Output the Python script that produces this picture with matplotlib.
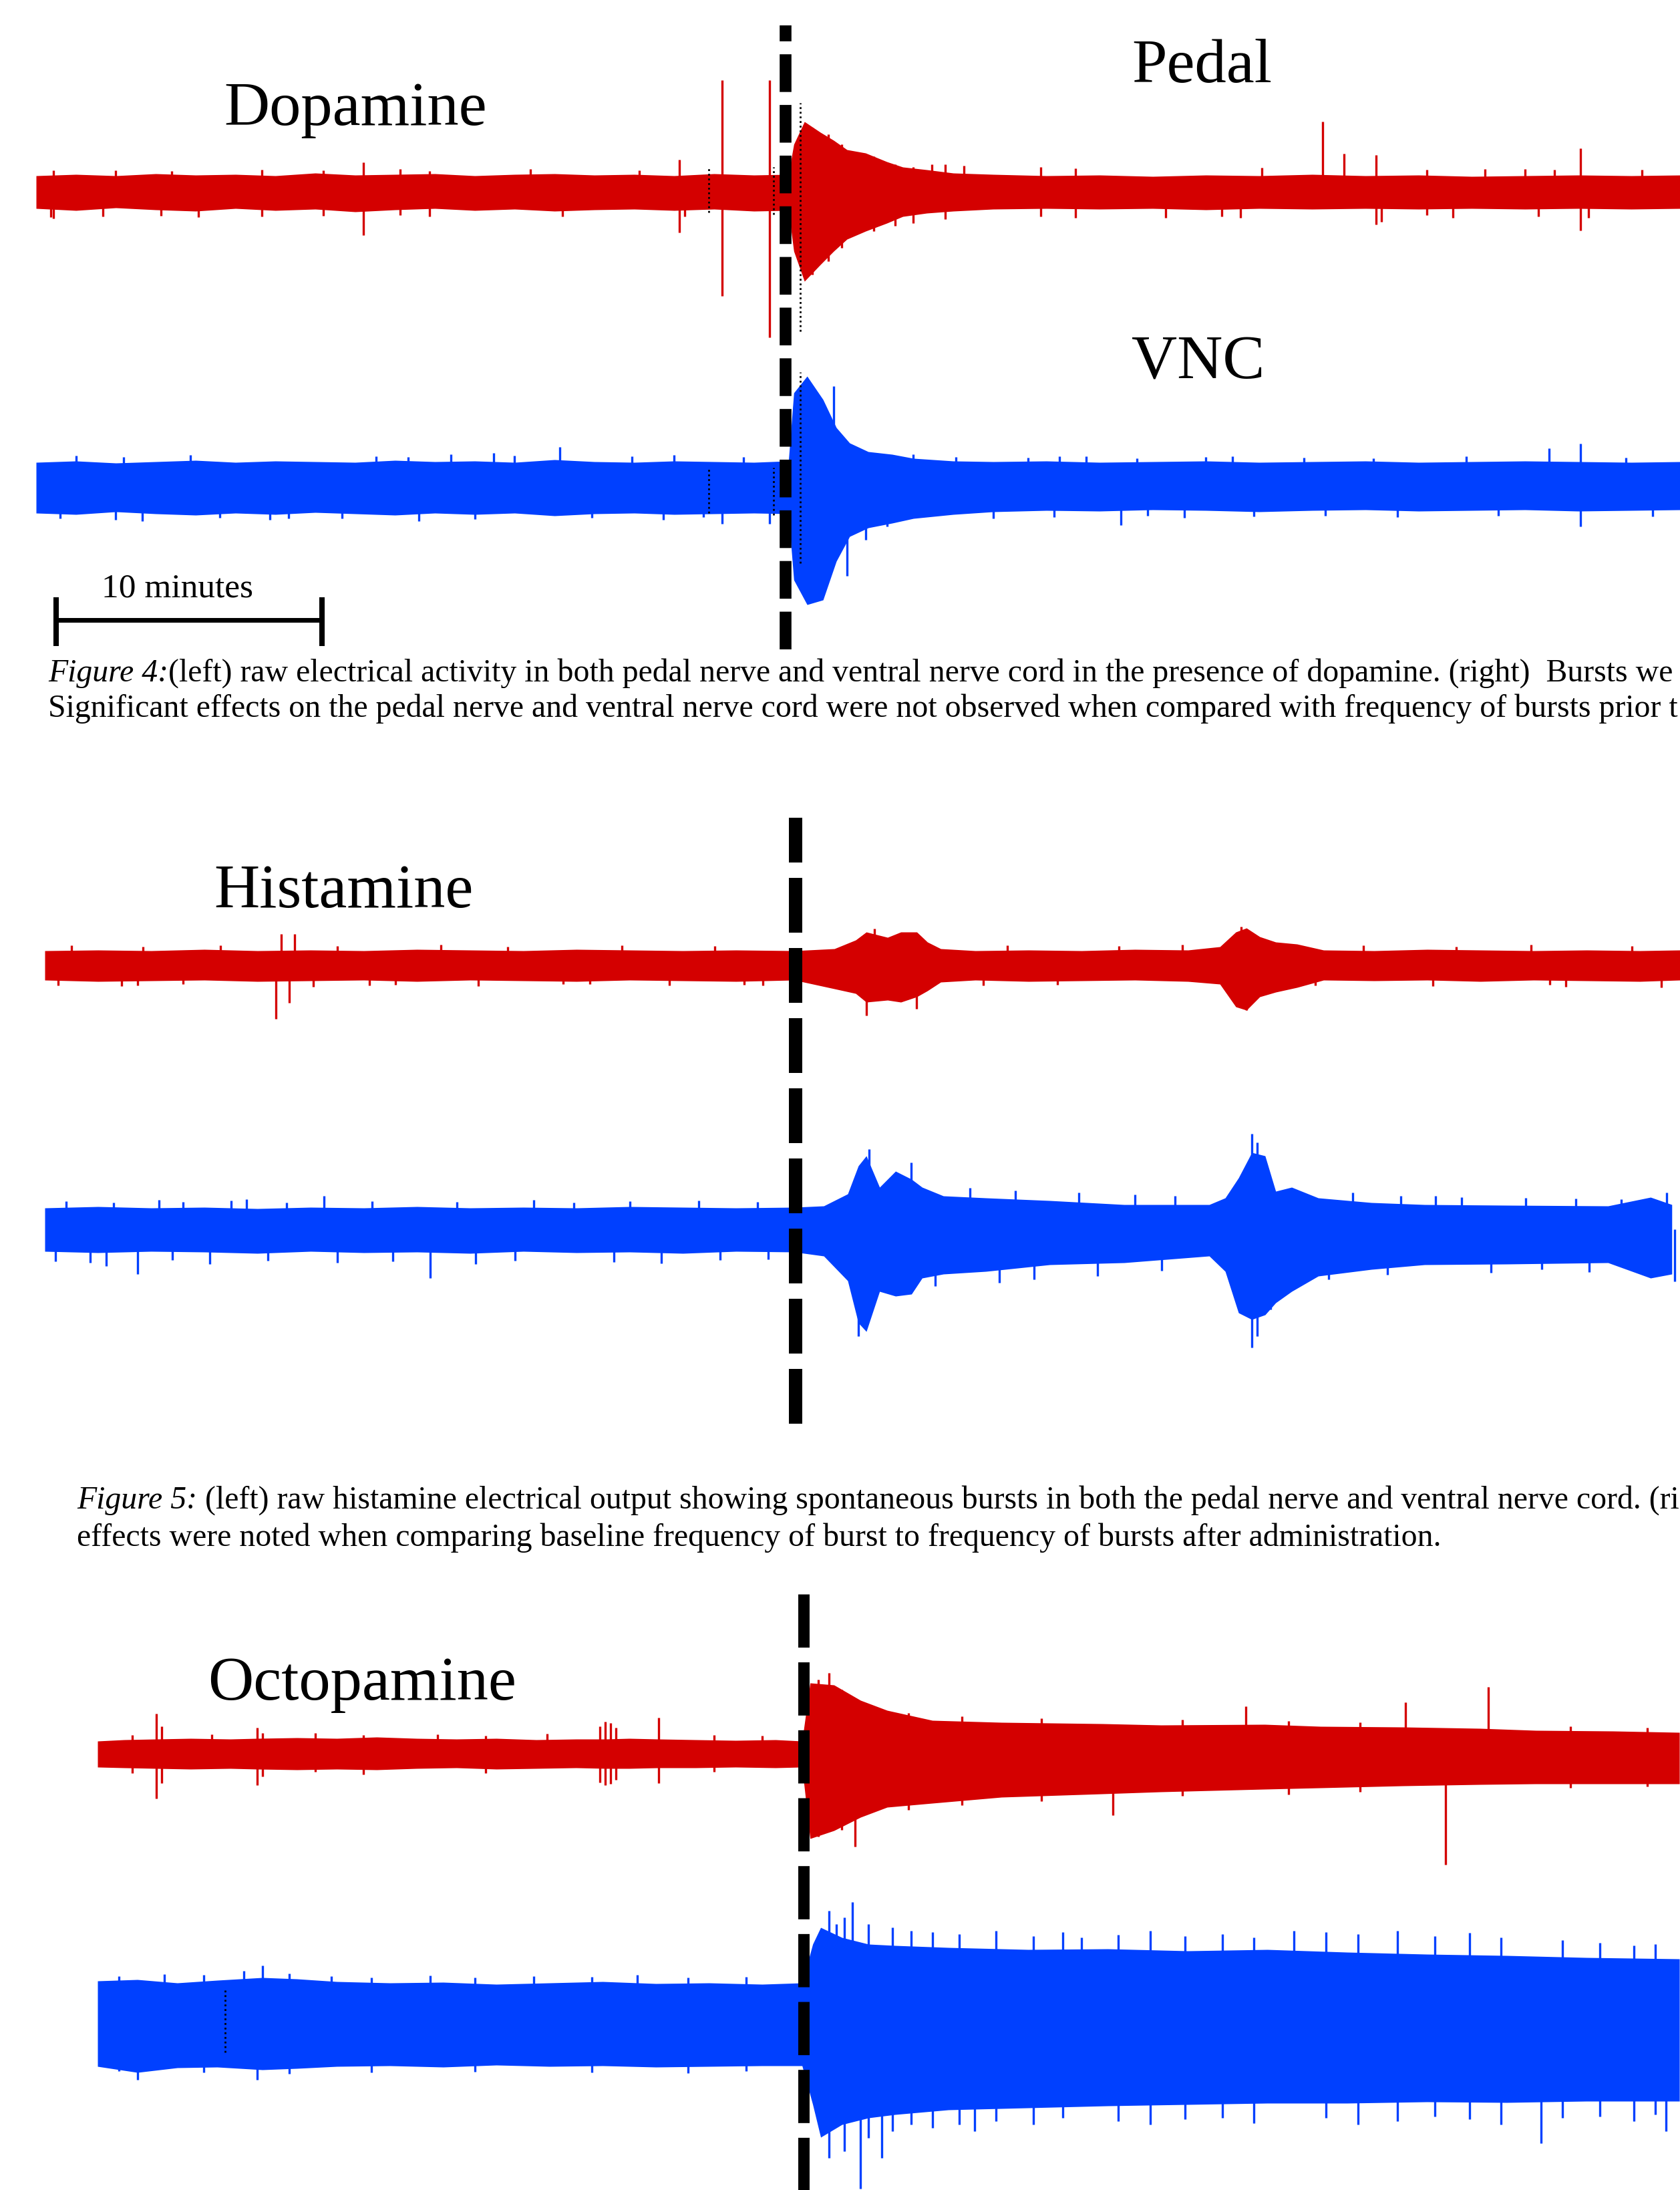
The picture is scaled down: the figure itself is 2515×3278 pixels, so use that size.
import matplotlib
matplotlib.use('Agg')
import matplotlib.pyplot as plt
import numpy as np

plt.rcParams['font.family'] = ['Liberation Serif', 'DejaVu Serif']

W, H = 2515, 3278
PX_PER_MIN = 39.8   # 10 minutes scale bar ~ 398 px
RED = '#d40000'
BLUE = '#0040ff'

# ---------------- Figure 4: dopamine ----------------
# trace envelopes: time (min), amplitude above / below baseline (a.u.)
dop_drug_t = 28.2

dop_red_t = [0, 1.5, 3, 4.5, 6, 7.5, 9, 10.5, 12, 13.5, 15, 16.5, 18, 19.5, 21, 22.5, 24, 25.5, 27, 28.3,
             28.5, 28.9, 29.5, 30.0, 30.5, 31.2, 32.0, 32.6, 33.5, 34.5, 36, 38, 40, 42, 44, 46, 48, 50,
             52, 54, 56, 58, 60, 61.9]
dop_red_top = [23, 25, 23, 26, 24, 25, 23, 27, 24, 25, 26, 23, 25, 26, 24, 25, 23, 26, 24, 25,
               70, 104, 88, 76, 62, 57, 44, 36, 32, 27, 25, 23, 24, 22, 24, 23, 25, 23,
               24, 22, 23, 24, 23, 24]
dop_red_bot = [26, 29, 25, 28, 30, 26, 29, 27, 31, 28, 26, 29, 27, 30, 28, 27, 29, 27, 30, 29,
               90, 135, 110, 90, 72, 60, 48, 38, 33, 30, 27, 26, 27, 26, 28, 26, 27, 26,
               27, 26, 27, 26, 27, 26]
# spikes: (time, height above, depth below)
dop_red_spikes = [(12.3, 43, 66), (24.2, 47, 62), (25.8, 166, 157), (27.6, 166, 219),
                  (48.4, 104, 0), (49.2, 56, 0), (50.4, 54, 50), (58.1, 64, 59),
                  (0.65, 31, 41), (3.0, 31, 0), (5.1, 30, 0), (8.5, 32, 38), (10.8, 31, 37),
                  (13.7, 33, 36), (14.8, 30, 38), (18.6, 33, 0), (22.7, 31, 0),
                  (0.55, 0, 39), (2.5, 0, 38), (4.7, 0, 37), (6.1, 0, 39), (19.8, 0, 38), (24.4, 0, 38),
                  (29.2, 95, 125), (29.8, 85, 105), (30.3, 70, 85), (31.5, 52, 60), (32.3, 40, 52),
                  (33.0, 36, 48), (33.7, 40, 0), (34.2, 40, 42), (34.9, 38, 0), (37.8, 36, 38),
                  (39.1, 34, 40), (46.1, 35, 0), (52.3, 32, 36), (54.5, 33, 0), (57.1, 32, 0),
                  (60.4, 32, 0), (45.3, 0, 40), (50.6, 0, 46), (56.5, 0, 38), (58.4, 0, 40),
                  (42.5, 0, 40), (44.6, 0, 38), (53.3, 0, 40), (56.0, 33, 0)]

dop_blue_t = [0, 1.5, 3, 4.5, 6, 7.5, 9, 10.5, 12, 13.5, 15, 16.5, 18, 19.5, 21, 22.5, 24, 25.5, 27, 28.3,
              28.5, 29.0, 29.6, 30.1, 30.6, 31.3, 32.2, 33.0, 34.5, 36, 38, 40, 42, 44, 46, 48, 50,
              52, 54, 56, 58, 60, 61.9]
dop_blue_top = [36, 38, 35, 37, 39, 36, 38, 37, 36, 39, 37, 38, 36, 40, 37, 36, 38, 37, 36, 38,
                140, 165, 130, 88, 65, 52, 48, 42, 38, 37, 38, 36, 37, 38, 36, 37, 38,
                36, 37, 38, 37, 36, 37]
dop_blue_bot = [40, 42, 38, 41, 43, 40, 42, 39, 41, 43, 40, 42, 40, 44, 41, 40, 42, 41, 40, 41,
                140, 177, 170, 112, 75, 62, 55, 48, 42, 38, 36, 37, 35, 36, 38, 36, 35,
                37, 36, 35, 37, 36, 35]
dop_blue_spikes = [(19.7, 59, 0), (4.0, 0, 52), (25.8, 0, 56), (27.6, 0, 56), (30.5, 0, 134),
                   (31.2, 0, 80), (40.8, 0, 58), (56.9, 57, 0), (58.1, 64, 60), (38.5, 45, 0),
                   (9.5, 0, 48), (14.0, 44, 0), (30.0, 150, 0), (45.0, 45, 0),
                   (1.5, 46, 0), (3.3, 44, 0), (5.8, 47, 0), (12.8, 45, 0), (15.6, 48, 0), (17.2, 50, 0),
                   (18.0, 46, 0), (22.4, 45, 0), (24.0, 47, 0), (26.6, 44, 0),
                   (0.9, 0, 48), (3.0, 0, 50), (6.9, 0, 47), (8.8, 0, 50), (11.5, 0, 48), (14.4, 0, 52),
                   (16.5, 0, 49), (20.9, 0, 47), (23.6, 0, 50), (25.1, 0, 46),
                   (33.0, 48, 0), (34.6, 44, 0), (37.3, 43, 0), (39.5, 45, 0), (41.4, 42, 0),
                   (44.0, 44, 0), (47.7, 43, 0), (50.3, 42, 0), (53.8, 45, 0), (59.8, 43, 0),
                   (32.0, 0, 60), (36.0, 0, 48), (38.3, 0, 46), (41.8, 0, 44), (43.2, 0, 47),
                   (45.8, 0, 45), (48.5, 0, 44), (51.2, 0, 46), (55.0, 0, 44), (60.8, 0, 45)]
# dotted marker columns near the application time: (time, above, below)
dop_red_marks = [(25.3, 36, 32), (27.75, 36, 35), (28.74, 132, 210)]
dop_blue_marks = [(25.3, 28, 40), (27.75, 28, 43), (28.74, 171, 115)]

# ---------------- Figure 5: histamine ----------------
his_drug_t = 28.24
his_red_t = [0, 2, 4, 6, 8, 10, 12, 14, 16, 18, 20, 22, 24, 26, 28.2, 29.7, 30.5, 30.9, 31.7, 32.2,
             32.8, 33.2, 33.7, 35, 37, 39, 41, 43, 44.2, 44.8, 45.2, 45.7, 46.3, 47.1, 48.1, 50, 52,
             54, 56, 58, 60, 61.5]
his_red_top = [22, 23, 22, 24, 22, 23, 22, 24, 23, 22, 24, 23, 22, 23, 22, 25, 38, 50, 42, 50,
               50, 35, 25, 22, 23, 22, 24, 23, 28, 50, 56, 43, 35, 32, 23, 22, 24,
               23, 22, 23, 22, 23]
his_red_bot = [22, 24, 23, 22, 24, 23, 22, 24, 22, 23, 24, 22, 23, 24, 22, 35, 42, 55, 52, 55,
               47, 38, 25, 22, 24, 23, 22, 24, 28, 62, 67, 47, 40, 33, 22, 23, 22,
               24, 22, 23, 24, 22]
his_red_spikes = [(8.9, 47, 0), (9.4, 47, 0), (8.7, 0, 80), (9.2, 0, 56), (3.5, 0, 30), (12.2, 0, 30),
                  (20.5, 0, 28), (27.0, 0, 30), (30.9, 0, 75), (31.2, 55, 0), (32.8, 0, 65),
                  (45.2, 0, 67), (45.0, 58, 0), (57.2, 0, 32),
                  (1.0, 30, 0), (3.7, 28, 0), (6.6, 30, 0), (11.0, 29, 0), (14.9, 31, 0), (17.4, 28, 0),
                  (21.7, 30, 0), (25.2, 29, 0), (36.2, 30, 0), (40.4, 29, 0), (42.8, 31, 0),
                  (49.6, 30, 0), (53.1, 28, 0), (55.9, 31, 0), (59.7, 29, 0),
                  (0.5, 0, 30), (2.9, 0, 31), (5.2, 0, 28), (10.1, 0, 32), (13.2, 0, 29), (16.3, 0, 31),
                  (19.5, 0, 28), (23.5, 0, 30), (26.3, 0, 29), (35.3, 0, 30), (38.1, 0, 29),
                  (47.8, 0, 30), (52.2, 0, 31), (56.6, 0, 29), (60.8, 0, 33)]

his_blue_t = [0, 2, 4, 6, 8, 10, 12, 14, 16, 18, 20, 22, 24, 26, 28.2, 29.3, 30.2, 30.6, 30.9, 31.4,
              32.0, 32.6, 33.0, 33.8, 35.4, 37.8, 40.6, 43.8, 44.4, 44.9, 45.4, 45.9, 46.3, 46.9, 47.9,
              49.9, 51.9, 55, 58.8, 60.4, 61.2]
his_blue_top = [32, 34, 32, 33, 31, 33, 32, 34, 32, 33, 32, 34, 33, 32, 33, 35, 53, 95, 110, 63,
                87, 75, 63, 50, 47, 43, 37, 37, 47, 77, 115, 110, 57, 63, 47,
                40, 37, 36, 35, 48, 37]
his_blue_bot = [33, 35, 33, 34, 36, 33, 35, 34, 36, 33, 35, 34, 36, 33, 34, 40, 77, 140, 153, 93,
                100, 97, 73, 67, 63, 53, 50, 40, 63, 125, 135, 128, 110, 93, 70,
                60, 53, 52, 50, 73, 67]
his_blue_spikes = [(10.5, 50, 0), (14.5, 0, 73), (3.5, 0, 67), (2.3, 0, 55), (7.6, 45, 0),
                   (30.6, 0, 160), (31.0, 120, 0), (32.6, 100, 0), (45.4, 143, 177), (45.6, 130, 160),
                   (46.1, 0, 120), (52.3, 50, 0), (61.3, 0, 78), (61.0, 55, 0), (33.5, 0, 85),
                   (27.2, 0, 45),
                   (0.8, 42, 0), (2.6, 40, 0), (4.3, 44, 0), (5.2, 41, 0), (7.0, 43, 0), (9.1, 40, 0),
                   (12.3, 42, 0), (15.5, 41, 0), (18.4, 44, 0), (19.9, 40, 0), (22.0, 42, 0),
                   (24.6, 43, 0), (26.8, 41, 0), (34.8, 62, 0), (36.5, 58, 0), (38.9, 55, 0),
                   (41.0, 52, 0), (42.5, 50, 0), (49.2, 55, 0), (51.0, 50, 0), (53.3, 48, 0),
                   (55.7, 47, 0), (57.6, 46, 0), (59.3, 45, 0),
                   (0.4, 0, 48), (1.7, 0, 50), (4.8, 0, 46), (6.2, 0, 52), (8.4, 0, 47), (11.0, 0, 50),
                   (13.1, 0, 48), (16.2, 0, 52), (17.7, 0, 47), (21.4, 0, 49), (23.2, 0, 51),
                   (25.4, 0, 46), (35.9, 0, 80), (37.2, 0, 75), (39.6, 0, 70), (42.0, 0, 62),
                   (48.3, 0, 75), (50.5, 0, 68), (54.4, 0, 65), (56.3, 0, 60), (58.1, 0, 64)]

# ---------------- octopamine ----------------
oct_drug_t = 26.56
oct_red_t = [0, 1, 2.2, 3.5, 5, 6, 7.5, 9, 10.5, 12, 13.5, 15, 16.5, 18, 19.1, 20, 21.1, 22.5, 24,
             25.5, 26.5, 26.8, 27.7, 28.7, 29.7, 31.4, 34.0, 37.8, 40, 43.9, 46, 49.1, 52, 54.1, 57, 59.5]
oct_red_top = [18, 20, 21, 22, 21, 22, 23, 22, 24, 22, 21, 22, 20, 21, 21, 22, 21, 20, 19,
               20, 18, 105, 102, 79, 64, 49, 46, 44, 42, 43, 40, 39, 37, 34, 33, 31]
oct_red_bot = [21, 22, 23, 24, 23, 24, 25, 24, 25, 23, 22, 24, 23, 22, 23, 23, 22, 22, 21,
               22, 21, 128, 116, 96, 81, 75, 66, 61, 58, 54, 52, 49, 47, 46, 46, 46]
oct_red_spikes = [(2.2, 59, 68), (2.4, 40, 45), (6.0, 38, 48), (6.2, 30, 35), (21.1, 53, 45),
                  (18.9, 40, 44), (19.1, 47, 48), (19.3, 45, 46), (19.5, 38, 40),
                  (43.2, 70, 0), (49.2, 76, 0), (50.7, 0, 167), (52.3, 99, 0), (38.2, 0, 93),
                  (27.5, 120, 0), (28.5, 0, 140), (27.1, 110, 125), (28.0, 95, 115),
                  (1.3, 27, 30), (4.3, 28, 0), (8.2, 30, 28), (10.0, 27, 32), (12.8, 28, 0),
                  (14.6, 26, 30), (16.9, 29, 0), (23.2, 27, 28), (25.0, 26, 0),
                  (30.5, 60, 85), (32.5, 55, 78), (35.5, 52, 72), (40.8, 50, 64), (44.8, 48, 62),
                  (47.5, 46, 58), (55.4, 40, 52), (58.3, 38, 50)]

oct_blue_t = [0, 1.5, 3, 4.5, 6.2, 7.5, 9, 11, 13, 15, 17, 19, 21, 23, 25, 26.5, 26.9, 27.2, 28, 29,
              30, 32, 35, 38, 41, 44, 47, 50, 53, 56, 59.5]
oct_blue_top = [65, 67, 62, 66, 70, 68, 64, 62, 63, 60, 62, 64, 61, 62, 60, 62, 120, 145, 130, 120,
                118, 115, 112, 113, 110, 112, 108, 105, 103, 100, 98]
oct_blue_bot = [63, 72, 65, 64, 68, 66, 63, 62, 64, 61, 63, 62, 64, 63, 62, 62, 120, 169, 150, 140,
                135, 128, 125, 122, 120, 118, 118, 116, 117, 115, 115]
oct_blue_spikes = [(1.5, 0, 83), (6.0, 0, 83), (6.2, 88, 0), (28.4, 183, 0), (28.7, 0, 246),
                   (29.5, 0, 200), (27.8, 150, 0), (54.3, 0, 178), (33, 0, 160), (37, 130, 0),
                   (45, 140, 0), (59, 0, 160), (2.5, 75, 0),
                   (0.8, 72, 70), (4.0, 74, 72), (5.5, 80, 0), (7.2, 76, 74), (8.8, 72, 0),
                   (10.3, 70, 72), (12.5, 73, 0), (14.2, 70, 71), (16.4, 72, 0), (18.6, 71, 72),
                   (20.3, 74, 0), (22.2, 70, 73), (24.4, 71, 70),
                   (27.5, 170, 200), (28.1, 160, 190), (29.0, 150, 170), (29.9, 145, 160),
                   (30.6, 140, 150), (31.4, 138, 155), (32.4, 135, 150), (33.8, 140, 145),
                   (35.2, 132, 150), (36.3, 138, 140), (38.4, 134, 145), (39.6, 140, 150),
                   (40.9, 132, 142), (42.3, 135, 140), (43.5, 130, 148), (46.2, 138, 140),
                   (47.4, 135, 150), (48.9, 140, 145), (50.3, 132, 138), (51.6, 137, 142),
                   (52.8, 130, 150), (55.1, 126, 140), (56.5, 122, 138), (57.8, 118, 145),
                   (58.6, 120, 135)]
oct_blue_marks = [(4.8, 53, 42)]

caption4 = ['Figure 4:', '(left) raw electrical activity in both pedal nerve and ventral nerve cord in the '
            'presence of dopamine. (right)  Bursts we',
            'Significant effects on the pedal nerve and ventral nerve cord were not observed when compared '
            'with frequency of bursts prior t']
caption5 = ['Figure 5:', ' (left) raw histamine electrical output showing spontaneous bursts in both the '
            'pedal nerve and ventral nerve cord. (ri',
            'effects were noted when comparing baseline frequency of burst to frequency of bursts after '
            'administration.']


fig = plt.figure(figsize=(W / 100, H / 100), dpi=100)
fig.patch.set_facecolor('white')


def strip_axes(x0, cy, half, z=1):
    # axes whose y unit is one pixel, centred on the trace baseline
    ax = fig.add_axes([x0 / W, 1 - (cy + half) / H, (W - x0) / W, 2 * half / H], zorder=z)
    ax.set_xlim(0, (W - x0) / PX_PER_MIN)
    ax.set_ylim(-half, half)
    ax.axis('off')
    ax.patch.set_alpha(0)
    return ax


def draw_trace(x0, cy, t, top, bot, spikes, color, marks=()):
    ax = strip_axes(x0, cy, 260)
    ax.fill_between(t, -np.array(bot), np.array(top), color=color, lw=0)
    st, up, dn = zip(*spikes)
    ax.vlines(st, -np.array(dn), np.array(up), color=color, lw=2.4)
    for mt, mu, md in marks:
        ax.vlines(mt, -md, mu, color='black', lw=2.0, linestyles=(0, (1, 1.5)))
    return ax


def drug_line(x0, y_top, y_bot, t, lw, dash):
    ax = fig.add_axes([x0 / W, 1 - y_bot / H, (W - x0) / W, (y_bot - y_top) / H], zorder=3)
    ax.set_xlim(0, (W - x0) / PX_PER_MIN)
    ax.set_ylim(0, 1)
    ax.axis('off')
    ax.patch.set_alpha(0)
    ax.axvline(t, 0, 1, color='black', lw=lw, linestyle=(0, dash))


def label(x, y, s, size, **kw):
    return fig.text(x / W, 1 - y / H, s, fontsize=size, va='baseline', **kw)


# Figure 4 panel
draw_trace(54, 286, dop_red_t, dop_red_top, dop_red_bot, dop_red_spikes, RED, dop_red_marks)
draw_trace(54, 728, dop_blue_t, dop_blue_top, dop_blue_bot, dop_blue_spikes, BLUE, dop_blue_marks)
drug_line(54, 38, 972, dop_drug_t, 12.7, (3.2, 1.1))

sb = strip_axes(54, 928, 60)
sb.hlines(0, 0.75, 10.75, color='black', lw=5)
sb.vlines([0.75, 10.75], -39, 34, color='black', lw=5.8)
label(265, 894, '10 minutes', 37, ha='center')

label(532, 187, 'Dopamine', 68, ha='center')
label(1799, 123, 'Pedal', 68, ha='center')
label(1794, 566, 'VNC', 68, ha='center')

# Figure 5 panel
draw_trace(67, 1445, his_red_t, his_red_top, his_red_bot, his_red_spikes, RED)
draw_trace(67, 1840, his_blue_t, his_blue_top, his_blue_bot, his_blue_spikes, BLUE)
drug_line(67, 1224, 2131, his_drug_t, 14.4, (4.1, 1.15))
label(514, 1358, 'Histamine', 68, ha='center')

# Octopamine panel
draw_trace(146, 2624, oct_red_t, oct_red_top, oct_red_bot, oct_red_spikes, RED)
draw_trace(146, 3030, oct_blue_t, oct_blue_top, oct_blue_bot, oct_blue_spikes, BLUE, oct_blue_marks)
drug_line(146, 2385, 3290, oct_drug_t, 12.2, (4.7, 1.3))
label(542, 2544, 'Octopamine', 68, ha='center')

# captions: size fitted so the last line of figure 5 spans ~2038 px
renderer = fig.canvas.get_renderer()
probe = label(0, 0, caption5[2], 30)
cap_size = 30 * 2038 / probe.get_window_extent(renderer).width
probe.remove()


def caption(x, y, lines, gap):
    it = label(x, y, lines[0], cap_size, style='italic')
    w = it.get_window_extent(renderer).width
    label(x + w, y, lines[1], cap_size)
    label(x, y + gap, lines[2], cap_size)


caption(72, 1020, caption4, 53)
caption(115, 2258, caption5, 56)

fig.savefig('out.png', dpi=100, facecolor='white')
